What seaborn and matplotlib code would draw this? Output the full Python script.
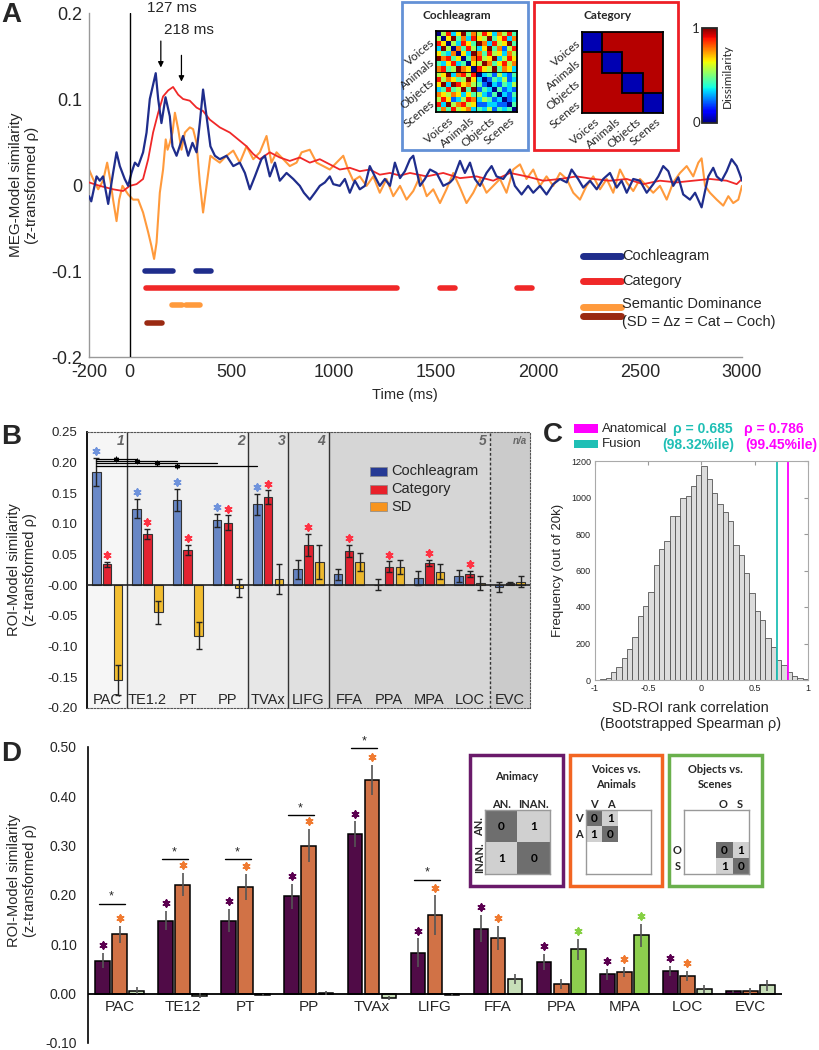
import numpy as np
import pandas as pd
import matplotlib
matplotlib.use("Agg")
import matplotlib.pyplot as plt
import seaborn as sns
from matplotlib.lines import Line2D
from matplotlib.patches import Rectangle
from matplotlib.colors import ListedColormap, Normalize, to_rgba
from matplotlib.cm import ScalarMappable

# ======================= DATA =======================
# ---- Panel A: MEG-model similarity time courses ----
t_coch = [-200, -189, -163, -147, -131, -106, -82, -65, -49, -25,
          -8, 8, 25, 41, 65, 82, 98, 127, 139, 155,
          175, 196, 209, 229, 261, 286, 307, 327, 343, 359,
          376, 395, 417, 441, 474, 507, 539, 564, 588, 613,
          645, 662, 686, 711, 735, 768, 801, 833, 853, 882,
          907, 931, 956, 980, 997, 1029, 1054, 1078, 1103, 1127,
          1152, 1176, 1201, 1225, 1250, 1275, 1299, 1324, 1348, 1373,
          1389, 1422, 1446, 1471, 1503, 1536, 1569, 1585, 1618, 1642,
          1667, 1691, 1716, 1748, 1773, 1797, 1830, 1863, 1887, 1920,
          1952, 1977, 2010, 2042, 2075, 2108, 2141, 2165, 2197, 2222,
          2255, 2288, 2320, 2353, 2386, 2410, 2435, 2467, 2500, 2533,
          2565, 2590, 2614, 2639, 2663, 2688, 2712, 2745, 2770, 2802,
          2819, 2835, 2859, 2876, 2900, 2925, 2949, 2974, 2990, 3000]
v_coch = [-0.013, -0.019, 0.010, 0.005, 0.010, -0.022, 0.014, 0.038, 0.022, 0.007,
          -0.001, 0.014, 0.026, 0.022, 0.038, 0.061, 0.100, 0.130, 0.100, 0.072,
          0.102, 0.080, 0.045, 0.034, 0.057, 0.034, 0.049, 0.038, 0.072, 0.111,
          0.080, 0.045, 0.034, 0.030, 0.034, 0.022, 0.026, 0.014, -0.005, 0.010,
          0.030, 0.034, 0.010, 0.026, 0.005, 0.014, 0.007, -0.001, -0.009, -0.017,
          -0.009, -0.001, 0.003, 0.010, 0.001, -0.001, 0.007, -0.009, 0.005, -0.005,
          -0.001, 0.022, 0.010, -0.001, 0.007, -0.001, 0.026, 0.008, 0.016, 0.030,
          0.034, -0.001, 0.007, 0.018, 0.014, -0.001, 0.003, 0.007, 0.028, 0.014,
          0.026, 0.007, -0.001, 0.014, 0.022, 0.010, 0.007, 0.018, -0.001, -0.011,
          -0.001, -0.009, -0.001, -0.011, 0.001, 0.007, 0.003, 0.018, 0.007, -0.003,
          0.005, -0.005, 0.007, 0.014, -0.003, 0.005, -0.009, 0.007, 0.005, -0.009,
          0.001, 0.010, 0.022, 0.016, -0.001, 0.009, -0.011, -0.017, -0.009, -0.026,
          -0.007, 0.010, 0.020, 0.010, 0.005, 0.016, 0.030, 0.022, 0.012, 0.005]

t_cat = [-200, -147, -82, -33, 0, 33, 65, 90, 114, 139,
         163, 188, 212, 237, 261, 294, 327, 359, 392, 441,
         490, 531, 572, 605, 637, 686, 735, 784, 833, 882,
         931, 980, 1029, 1078, 1127, 1176, 1225, 1275, 1324, 1373,
         1455, 1536, 1618, 1699, 1781, 1863, 1944, 2026, 2108, 2189,
         2271, 2353, 2435, 2516, 2598, 2680, 2761, 2843, 2925, 2974,
         3000]
v_cat = [0.003, -0.001, -0.005, -0.007, -0.001, 0.001, 0.007, 0.030, 0.061, 0.084,
         0.103, 0.110, 0.114, 0.105, 0.100, 0.098, 0.090, 0.086, 0.076, 0.067,
         0.061, 0.053, 0.045, 0.036, 0.030, 0.038, 0.032, 0.028, 0.032, 0.026,
         0.030, 0.024, 0.018, 0.020, 0.016, 0.018, 0.012, 0.014, 0.011, 0.014,
         0.010, 0.014, 0.008, 0.010, 0.005, 0.014, 0.010, 0.005, 0.007, 0.010,
         0.007, 0.005, 0.007, 0.001, 0.005, 0.003, 0.005, 0.007, 0.005, 0.001,
         0.007]

t_sd = [-200, -180, -155, -131, -111, -95, -82, -65, -52, -36,
        -8, 16, 41, 65, 90, 106, 119, 131, 147, 163,
        176, 185, 196, 209, 221, 237, 253, 270, 294, 310,
        327, 343, 359, 376, 395, 417, 441, 474, 507, 539,
        572, 605, 637, 670, 694, 719, 752, 784, 817, 842,
        882, 915, 948, 980, 1013, 1046, 1070, 1095, 1127, 1160,
        1193, 1225, 1258, 1291, 1324, 1356, 1389, 1422, 1455, 1487,
        1520, 1552, 1585, 1618, 1650, 1683, 1716, 1748, 1781, 1814,
        1846, 1879, 1912, 1944, 1977, 2010, 2042, 2075, 2108, 2141,
        2173, 2206, 2238, 2271, 2304, 2337, 2369, 2402, 2435, 2467,
        2500, 2533, 2565, 2598, 2631, 2663, 2696, 2729, 2761, 2786,
        2802, 2819, 2843, 2876, 2908, 2933, 2957, 2982, 3000]
v_sd = [0.018, 0.007, -0.005, 0.005, 0.026, 0.005, -0.017, -0.042, -0.017, -0.001,
        -0.011, -0.017, -0.017, -0.032, -0.055, -0.071, -0.086, -0.067, -0.009, 0.018,
        0.053, 0.041, 0.049, 0.061, 0.084, 0.065, 0.041, 0.061, 0.067, 0.065,
        0.049, 0.003, -0.032, -0.001, 0.034, 0.030, 0.026, 0.034, 0.040, 0.026,
        0.045, 0.030, 0.038, 0.057, 0.026, 0.038, 0.030, 0.022, 0.026, 0.038,
        0.041, 0.026, 0.022, 0.018, 0.026, 0.034, 0.018, 0.005, 0.010, -0.001,
        0.010, -0.009, 0.007, -0.013, -0.001, -0.017, -0.007, 0.010, -0.013, -0.005,
        -0.021, -0.005, 0.014, -0.003, -0.021, -0.009, 0.007, -0.009, -0.001, 0.007,
        -0.009, 0.018, 0.024, 0.007, 0.018, -0.001, 0.010, -0.001, 0.014, 0.007,
        -0.009, -0.017, -0.001, 0.010, -0.005, 0.007, -0.009, 0.018, 0.003, -0.007,
        0.007, -0.001, -0.009, -0.001, -0.017, 0.003, 0.014, 0.022, 0.010, 0.026,
        0.031, -0.001, -0.009, -0.017, -0.024, -0.013, -0.021, -0.017, -0.001]

# significant time windows (ms)
sig_coch = [(74, 212), (324, 400)]
sig_cat = [(77, 1307), (1520, 1593), (1895, 1969)]
sig_sd_pos = [(205, 255), (275, 343)]
sig_sd_neg = [(84, 157)]
x_ticks_A = [-200, 0, 500, 1000, 1500, 2000, 2500, 3000]
y_ticks_A = [-0.2, -0.1, 0, 0.1, 0.2]
y_ticklabels_A = ["-0.2", "-0.1", "0", "0.1", "0.2"]

rdm_labels = ["Voices", "Animals", "Objects", "Scenes"]
coch_rdm_rows = ["0583694758637584", "5069473865946837", "8605386497385694",
                 "3950748536947258", "6437063974856375", "9784604785693586",
                 "4368340659746857", "7845976086594763", "5693785803425324",
                 "8576459630243523", "6939867542032435", "3484594924304232",
                 "7657636453240324", "5862358735423023", "8395785622332204",
                 "4748567343524340"]
cat_rdm = [[0, 1, 1, 1], [1, 0, 1, 1], [1, 1, 0, 1], [1, 1, 1, 0]]

# ---- Panel B: ROI-model similarity ----
rois_B = ["PAC", "TE1.2", "PT", "PP", "TVAx", "LIFG", "FFA", "PPA", "MPA", "LOC", "EVC"]
coch_B = [0.185, 0.125, 0.139, 0.106, 0.132, 0.026, 0.018, 0.001, 0.012, 0.015, -0.003]
cat_B = [0.034, 0.084, 0.058, 0.102, 0.144, 0.066, 0.056, 0.030, 0.036, 0.018, 0.004]
sd_B = [-0.154, -0.044, -0.082, -0.004, 0.010, 0.038, 0.038, 0.030, 0.022, 0.004, 0.006]
coch_B_err = [0.023, 0.016, 0.018, 0.011, 0.017, 0.015, 0.009, 0.009, 0.012, 0.010, 0.008]
cat_B_err = [0.004, 0.008, 0.008, 0.012, 0.011, 0.018, 0.010, 0.009, 0.005, 0.005, 0.002]
sd_B_err = [0.024, 0.019, 0.022, 0.015, 0.024, 0.028, 0.015, 0.012, 0.012, 0.012, 0.009]
sig_coch_B = [1, 1, 1, 1, 1, 0, 0, 0, 0, 0, 0]
sig_cat_B = [1, 1, 1, 1, 1, 1, 1, 1, 1, 1, 0]
compare_targets_B = [1, 2, 3, 4]
compare_y_B = [0.206, 0.203, 0.199, 0.195]
region_bounds_B = [-0.5, 0.5, 3.5, 4.5, 5.5, 9.5, 10.5]
region_names_B = ["1", "2", "3", "4", "5", "n/a"]

# ---- Panel C: bootstrap histogram (40 bins over [-1, 1]) ----
hist_counts = [2, 4, 10, 44, 70, 120, 172, 237, 350, 404,
               480, 630, 720, 760, 900, 900, 1000, 1010, 1065, 1125,
               1170, 1100, 1025, 965, 920, 870, 740, 685, 585, 475,
               380, 330, 232, 180, 110, 84, 44, 21, 12, 3]
rho_fusion_line = 0.71
rho_anat_line = 0.81

# ---- Panel D ----
rois_D = ["PAC", "TE12", "PT", "PP", "TVAx", "LIFG", "FFA", "PPA", "MPA", "LOC", "EVC"]
anim_D = [0.067, 0.148, 0.148, 0.197, 0.323, 0.083, 0.132, 0.064, 0.039, 0.046, 0.005]
va_D = [0.120, 0.221, 0.216, 0.300, 0.433, 0.159, 0.113, 0.020, 0.044, 0.036, 0.005]
os_D = [0.006, -0.004, -0.003, 0.002, -0.009, -0.003, 0.029, 0.090, 0.118, 0.009, 0.017]
anim_D_err = [0.015, 0.019, 0.024, 0.025, 0.026, 0.029, 0.027, 0.017, 0.011, 0.011, 0.003]
va_D_err = [0.017, 0.024, 0.027, 0.034, 0.031, 0.040, 0.025, 0.010, 0.010, 0.010, 0.007]
os_D_err = [0.007, 0.005, 0.002, 0.004, 0.004, 0.002, 0.010, 0.021, 0.024, 0.008, 0.011]
sig_anim_D = [1, 1, 1, 1, 1, 1, 1, 1, 1, 1, 0]
sig_va_D = [1, 1, 1, 1, 1, 1, 1, 0, 1, 1, 0]
sig_os_D = [0, 0, 0, 0, 0, 0, 0, 1, 1, 0, 0]
compare_y_D = [0.182, 0.273, 0.273, 0.362, 0.497, 0.231]

# ======================= STYLE =======================
sns.set_style("white")
plt.rcParams["font.family"] = ["Liberation Sans", "DejaVu Sans"]
plt.rcParams["axes.unicode_minus"] = False
INS = ["Lato", "DejaVu Sans"]

C_COCH, C_CAT, C_SD, C_SDNEG = "#1f2d8c", "#f02828", "#ff9a3c", "#9a2a12"

W, H = 820, 1050
fig = plt.figure(figsize=(W / 100, H / 100), dpi=100)


def add_ax(x0, y0, x1, y1):
    return fig.add_axes([x0 / W, 1 - y1 / H, (x1 - x0) / W, (y1 - y0) / H])


def ftext(x, y, s, **kw):
    fig.text(x / W, 1 - y / H, s, **kw)


def fline(x0, x1, y0, y1, **kw):
    fig.add_artist(Line2D([x0 / W, x1 / W], [1 - y0 / H, 1 - y1 / H],
                          transform=fig.transFigure, **kw))


def frect(x0, y0, x1, y1, **kw):
    fig.add_artist(Rectangle((x0 / W, 1 - y1 / H), (x1 - x0) / W, (y1 - y0) / H,
                             transform=fig.transFigure, **kw))


# ======================= PANEL A =======================
axA = add_ax(89, 13, 742, 357)
axA.set_facecolor("none")
for t, v, c, lw, z in [(t_sd, v_sd, C_SD, 1.5, 2), (t_cat, v_cat, C_CAT, 1.3, 3),
                       (t_coch, v_coch, C_COCH, 1.6, 4)]:
    sns.lineplot(x=t, y=v, color=c, linewidth=lw, ax=axA, estimator=None,
                 sort=False, zorder=z)
axA.axvline(0, color="k", lw=1.0, zorder=5)
for segs, yv, c in [(sig_coch, -0.10, C_COCH), (sig_cat, -0.12, C_CAT),
                    (sig_sd_pos, -0.14, C_SD), (sig_sd_neg, -0.16, C_SDNEG)]:
    for a, b in segs:
        axA.plot([a, b], [yv, yv], color=c, lw=4, solid_capstyle="round")
axA.set_xlim(-200, 3000)
axA.set_ylim(-0.2, 0.2)
axA.set_xticks(x_ticks_A)
axA.set_xticklabels([str(v) for v in x_ticks_A])
axA.set_yticks(y_ticks_A)
axA.set_yticklabels(y_ticklabels_A)
axA.tick_params(direction="in", length=4, color="#888888", labelsize=13, pad=5)
for s in ["top", "right"]:
    axA.spines[s].set_visible(False)
for s in ["left", "bottom"]:
    axA.spines[s].set_color("#999999")
    axA.spines[s].set_linewidth(1)
axA.set_xlabel("Time (ms)", fontsize=10.5)
axA.xaxis.set_label_coords(0.484, -0.09)
axA.set_ylabel("MEG-Model similarity\n(z-transformed ρ)", fontsize=11)
axA.yaxis.set_label_coords(-0.077, 0.5)

axA.annotate("", xy=(152, 0.1334), xytext=(152, 0.1706), annotation_clip=False,
             arrowprops=dict(arrowstyle="-|>", color="k", lw=0.9, mutation_scale=8))
axA.text(204, 0.206, "127 ms", ha="center", va="center", fontsize=11, clip_on=False)
axA.annotate("", xy=(253, 0.117), xytext=(253, 0.154), annotation_clip=False,
             arrowprops=dict(arrowstyle="-|>", color="k", lw=0.9, mutation_scale=8))
axA.text(292, 0.180, "218 ms", ha="center", va="center", fontsize=11, clip_on=False)

# legend A
fline(583, 621, 256, 256, color=C_COCH, lw=5)
ftext(622, 256, "Cochleagram", va="center", fontsize=10.5)
fline(583, 621, 281, 281, color=C_CAT, lw=5)
ftext(622, 281, "Category", va="center", fontsize=10.5)
fline(583, 621, 307, 307, color=C_SD, lw=5)
fline(583, 621, 316, 316, color=C_SDNEG, lw=5)
ftext(622, 304, "Semantic Dominance", va="center", fontsize=10.5)
ftext(622, 322, "(SD = Δz = Cat – Coch)", va="center", fontsize=10.5)

# insets A
frect(402, 2, 528, 150, fill=False, ec="#6391d6", lw=2)
frect(534, 2, 678, 150, fill=False, ec="#ee1f26", lw=2)
coch_rdm = np.array([[int(ch) / 9 for ch in r] for r in coch_rdm_rows])
ax_co = add_ax(436, 31, 517, 112)
sns.heatmap(coch_rdm, cmap="jet", vmin=0, vmax=1, cbar=False, ax=ax_co,
            xticklabels=False, yticklabels=False)
ax_ca = add_ax(582, 32, 663, 113)
sns.heatmap(np.array(cat_rdm, float), cmap="jet", vmin=-0.05, vmax=1.055, cbar=False,
            ax=ax_ca, xticklabels=False, yticklabels=False)
for k in range(4):
    ax_ca.add_patch(Rectangle((k, k), 1, 1, fill=False, ec="k", lw=1.3))
for axm in (ax_co, ax_ca):
    for s in axm.spines.values():
        s.set_visible(True)
        s.set_color("k")
        s.set_linewidth(1.3)
ax_co.axhline(8, color="k", lw=0.6)
ax_co.axvline(8, color="k", lw=0.6)

ftext(457, 15.5, "Cochleagram", ha="center", va="center", fontsize=8.5,
      weight="bold", family=INS)
ftext(608, 15.5, "Category", ha="center", va="center", fontsize=8.5,
      weight="bold", family=INS)
for x_left, y_top, x_mat in [(433, 31, 436), (579, 32, 582)]:
    for k, name in enumerate(rdm_labels):
        ftext(x_left, y_top + 10 + 20.25 * k, name, rotation=40, ha="right",
              va="center", rotation_mode="anchor", fontsize=8.5, family=INS)
        ftext(x_mat + 13 + 20.25 * k, y_top + 84, name, rotation=40, ha="right",
              va="top", rotation_mode="anchor", fontsize=8.5, family=INS)

cax = add_ax(702, 28, 717, 123)
cb = fig.colorbar(ScalarMappable(norm=Normalize(0, 1), cmap="jet"), cax=cax)
cb.set_ticks([])
cb.outline.set_linewidth(1.3)
ftext(696, 29, "1", ha="center", va="center", fontsize=9.5, family=INS)
ftext(696, 123, "0", ha="center", va="center", fontsize=9.5, family=INS)
ftext(727, 76, "Dissimilarity", rotation=90, ha="center", va="center",
      fontsize=8.5, family=INS)

# ======================= PANEL B =======================
axB = add_ax(87, 432, 530, 708)
axB.set_facecolor("none")
models_B = ["Cochleagram", "Category", "SD"]
dfB = pd.DataFrame({"roi": np.tile(rois_B, 3),
                    "model": np.repeat(models_B, len(rois_B)),
                    "value": np.concatenate([coch_B, cat_B, sd_B])})
palB = {"Cochleagram": "#2f5bb5", "Category": "#e00010", "SD": "#f2b000"}
alphaB = {"Cochleagram": 0.7, "Category": 0.85, "SD": 0.8}
sns.barplot(data=dfB, x="roi", y="value", hue="model", order=rois_B,
            hue_order=models_B, palette=palB, width=0.81, gap=0.22, errorbar=None,
            edgecolor="#333333", linewidth=0.8, legend=False, ax=axB, zorder=3)
for cont, m in zip(axB.containers, models_B):
    for bar in cont:
        bar.set_facecolor(to_rgba(palB[m], alphaB[m]))
region_cols = ["#f6f6f6", "#f0f0f0", "#e7e7e7", "#e0e0e0", "#d6d6d6", "#cbcbcb"]
for k in range(6):
    axB.axvspan(region_bounds_B[k], region_bounds_B[k + 1], color=region_cols[k], zorder=0, lw=0)
    axB.text(region_bounds_B[k + 1] - 0.08, 0.236, region_names_B[k], ha="right",
             va="center", fontsize=10 if k < 5 else 7, style="italic", weight="bold",
             color="#666666", zorder=5)
for b in region_bounds_B[1:-2]:
    axB.axvline(b, color="#333333", lw=1.0, zorder=1)
axB.axvline(region_bounds_B[-2], color="#333333", lw=1.0, ls=(0, (2, 1.5)), zorder=1)
axB.axhline(0, color="#222222", lw=1.2, zorder=3.5)
offs = [-0.27, 0.0, 0.27]
idx = np.arange(len(rois_B))
for k, (vals, errs) in enumerate([(coch_B, coch_B_err), (cat_B, cat_B_err), (sd_B, sd_B_err)]):
    axB.errorbar(idx + offs[k], vals, yerr=errs, fmt="none", ecolor="#222222",
                 elinewidth=1, capsize=2, capthick=1, zorder=4)
for i in idx:
    if sig_coch_B[i]:
        axB.scatter(i + offs[0], coch_B[i] + coch_B_err[i] + 0.011, marker=(6, 2, 0),
                    s=22, color="#6f93dc", linewidths=1.4, zorder=5)
    if sig_cat_B[i]:
        axB.scatter(i + offs[1], cat_B[i] + cat_B_err[i] + 0.011, marker=(6, 2, 0),
                    s=22, color="#ff3344", linewidths=1.4, zorder=5)
for tgt, yv in zip(compare_targets_B, compare_y_B):
    x0, x1 = 0 + offs[0], tgt + offs[0]
    axB.plot([x0, x1], [yv, yv], color="k", lw=0.9, zorder=5)
    axB.scatter((x0 + x1) / 2, yv, marker=(6, 2, 0), s=10, color="k", linewidths=1, zorder=6)
for i, name in enumerate(rois_B):
    axB.text(i, -0.187, name, ha="center", va="center", fontsize=10.5, zorder=5)
axB.set_xlim(-0.5, 10.5)
axB.set_ylim(-0.2, 0.25)
axB.set_xticks([])
axB.set_xlabel("")
yt = np.round(np.arange(-0.2, 0.251, 0.05), 2)
axB.set_yticks(yt)
axB.set_yticklabels([f"{v:.2f}" for v in yt])
axB.tick_params(axis="y", length=0, labelsize=9.5, pad=7)
axB.set_ylabel("ROI-Model similarity\n(z-transformed ρ)", fontsize=10.5)
axB.yaxis.set_label_coords(-0.113, 0.5)
axB.spines["left"].set_color("k")
axB.spines["left"].set_linewidth(1.3)
for s in ["top", "right", "bottom"]:
    axB.spines[s].set_linestyle((0, (1.5, 1.5)))
    axB.spines[s].set_color("#555555")
    axB.spines[s].set_linewidth(0.8)

# legend B
for yy, c, lab in [(471.5, "#263a95", "Cochleagram"), (489, "#e8202a", "Category"),
                   (506.7, "#f7941d", "SD")]:
    frect(370, yy - 4.5, 387, yy + 4.5, color=c, ec="#888888", lw=0.5)
    ftext(391, yy, lab, va="center", fontsize=10.5)

# ======================= PANEL C =======================
axC = add_ax(595, 461, 808, 680)
nb = len(hist_counts)
bin_width = 2.0 / nb
centers = -1 + bin_width * (np.arange(nb) + 0.5)
dfC = pd.DataFrame({"rho": centers, "count": np.array(hist_counts, float)})
sns.histplot(data=dfC, x="rho", weights="count", bins=nb, binrange=(-1, 1),
             color="#dcdcdc", edgecolor="#555555", linewidth=0.6, alpha=1, ax=axC)
axC.axvline(rho_fusion_line, color="#1fbfb5", lw=1.3)
axC.axvline(rho_anat_line, color="#ff00ff", lw=1.3)
axC.set_xlim(-1, 1)
axC.set_ylim(0, 1200)
axC.set_xticks([-1, -0.5, 0, 0.5, 1])
axC.set_xticklabels(["-1", "-0.5", "0", "0.5", "1"])
axC.set_yticks(range(0, 1201, 200))
axC.tick_params(direction="in", length=3, color="#999999", labelsize=6.5,
                top=True, right=True, pad=3)
for s in axC.spines.values():
    s.set_color("#aaaaaa")
    s.set_linewidth(0.8)
axC.set_xlabel("SD-ROI rank correlation\n(Bootstrapped Spearman ρ)", fontsize=10.5)
axC.xaxis.set_label_coords(0.45, -0.095)
axC.set_ylabel("Frequency (out of 20k)", fontsize=9.5)
axC.yaxis.set_label_coords(-0.145, 0.5)
frect(574, 424, 598, 433, color="#ff00ff", lw=0)
frect(574, 440, 598, 448, color="#1fbfb5", lw=0)
ftext(602, 428.5, "Anatomical", va="center", fontsize=9.5)
ftext(602, 444, "Fusion", va="center", fontsize=9.5)
ftext(703, 428.5, "ρ = 0.685", ha="center", va="center", fontsize=10, weight="bold", color="#1fbfb5")
ftext(698, 444.5, "(98.32%ile)", ha="center", va="center", fontsize=10, weight="bold", color="#1fbfb5")
ftext(774, 428.5, "ρ = 0.786", ha="center", va="center", fontsize=10, weight="bold", color="#ff00ff")
ftext(781, 444.5, "(99.45%ile)", ha="center", va="center", fontsize=10, weight="bold", color="#ff00ff")

# ======================= PANEL D =======================
axD = add_ax(88, 747, 782, 1043)
axD.set_facecolor("none")
models_D = ["Animacy", "Voices vs. Animals", "Objects vs. Scenes"]
dfD = pd.DataFrame({"roi": np.tile(rois_D, 3),
                    "model": np.repeat(models_D, len(rois_D)),
                    "value": np.concatenate([anim_D, va_D, os_D])})
palD = {"Animacy": "#5b0050", "Voices vs. Animals": "#e86a2f", "Objects vs. Scenes": "#c6e4b2"}
sns.barplot(data=dfD, x="roi", y="value", hue="model", order=rois_D,
            hue_order=models_D, palette=palD, width=0.81, gap=0.14, errorbar=None,
            edgecolor="k", linewidth=1.1, legend=False, ax=axD, zorder=3)
for i in range(len(rois_D)):
    if sig_os_D[i]:
        axD.containers[2][i].set_facecolor("#8dcf4e")
axD.axhline(0, color="k", lw=1.3, zorder=3.5)
idxD = np.arange(len(rois_D))
for k, (vals, errs) in enumerate([(anim_D, anim_D_err), (va_D, va_D_err), (os_D, os_D_err)]):
    axD.errorbar(idxD + offs[k], vals, yerr=errs, fmt="none", ecolor="#555555",
                 elinewidth=1.2, capsize=0, zorder=4)
star_cols = ["#5b0050", "#f07a30", "#86d044"]
for k, (vals, errs, sig) in enumerate([(anim_D, anim_D_err, sig_anim_D),
                                       (va_D, va_D_err, sig_va_D),
                                       (os_D, os_D_err, sig_os_D)]):
    for i in idxD:
        if sig[i]:
            axD.scatter(i + offs[k], vals[i] + errs[i] + 0.016, marker=(6, 2, 0), s=22,
                        color=star_cols[k], linewidths=1.4, zorder=5)
for i, yv in enumerate(compare_y_D):
    axD.plot([i - 0.33, i + 0.08], [yv, yv], color="k", lw=1, zorder=5)
    axD.text(i - 0.13, yv + 0.002, "*", ha="center", va="bottom", fontsize=9, zorder=5)
for i, name in enumerate(rois_D):
    axD.text(i, -0.028, name, ha="center", va="center", fontsize=11, zorder=5)
axD.set_xlim(-0.5, 10.5)
axD.set_ylim(-0.1, 0.5)
axD.set_xticks([])
axD.set_xlabel("")
ytD = np.round(np.arange(-0.1, 0.501, 0.1), 2)
axD.set_yticks(ytD)
axD.set_yticklabels([f"{v:.2f}" for v in ytD])
axD.tick_params(axis="y", length=0, labelsize=10, pad=8)
axD.set_ylabel("ROI-Model similarity\n(z-transformed ρ)", fontsize=10.5)
axD.yaxis.set_label_coords(-0.073, 0.55)
for s in ["top", "right", "bottom"]:
    axD.spines[s].set_visible(False)
axD.spines["left"].set_color("k")
axD.spines["left"].set_linewidth(1.2)

# insets D
frect(470, 755, 563, 886, fill=False, ec="#6a1a6a", lw=2.5)
frect(570, 755, 662, 886, fill=False, ec="#f26522", lw=2.5)
frect(669, 755, 762, 886, fill=False, ec="#6ab04c", lw=2.5)
gray2 = ListedColormap(["#6e6e6e", "#d0d0d0"])
ann = dict(fontsize=8.5, color="k", family=INS, weight="bold")
anim_mat = np.array([[0, 1], [1, 0]], float)
va_mat = np.full((4, 4), np.nan)
va_mat[:2, :2] = anim_mat
os_mat = np.full((4, 4), np.nan)
os_mat[2:, 2:] = anim_mat
for (x0, x1), mat in [((485, 550), anim_mat), ((586, 651), va_mat), ((684, 749), os_mat)]:
    axm = add_ax(x0, 810, x1, 874)
    sns.heatmap(mat, cmap=gray2, vmin=0, vmax=1, cbar=False, annot=True, fmt=".0f",
                annot_kws=ann, ax=axm, xticklabels=False, yticklabels=False)
    for s in axm.spines.values():
        s.set_visible(True)
        s.set_color("#999999")
        s.set_linewidth(1)
ftext(516.5, 777, "Animacy", ha="center", va="center", fontsize=8, weight="bold", family=INS)
ftext(616, 777, "Voices vs.\nAnimals", ha="center", va="center", fontsize=8,
      weight="bold", family=INS, linespacing=1.5)
ftext(715, 777, "Objects vs.\nScenes", ha="center", va="center", fontsize=8,
      weight="bold", family=INS, linespacing=1.5)
lab = dict(ha="center", va="center", fontsize=8, weight="bold", family=INS)
ftext(501.7, 805, "AN.", **lab)
ftext(533.3, 805, "INAN.", **lab)
ftext(480, 826.7, "AN.", rotation=90, **lab)
ftext(480, 858, "INAN.", rotation=90, **lab)
ftext(594, 804, "V", **lab)
ftext(610.5, 804, "A", **lab)
ftext(579, 818, "V", **lab)
ftext(579, 834, "A", **lab)
ftext(723.5, 804, "O", **lab)
ftext(739.5, 804, "S", **lab)
ftext(677.5, 850, "O", **lab)
ftext(677.5, 866, "S", **lab)

# panel letters
for x, y, L in [(11, 14.5, "A"), (11, 437, "B"), (553, 435, "C"), (11, 754, "D")]:
    ftext(x, y, L, ha="center", va="center", fontsize=20, weight="bold")

fig.savefig("out.png", dpi=100)
